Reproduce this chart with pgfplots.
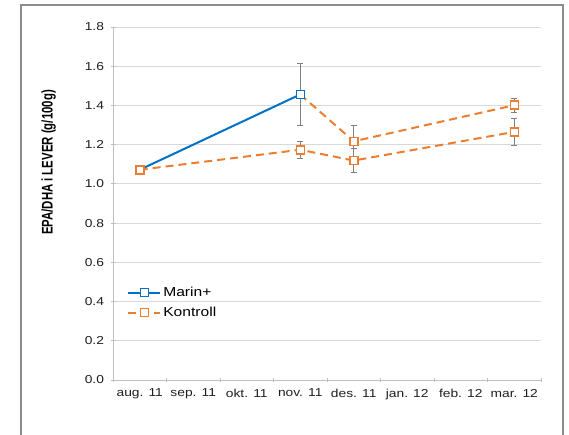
\documentclass[border=0pt]{standalone}
\usepackage{pgfplots}
\pgfplotsset{compat=1.18}
\usepackage{graphicx}
\usepackage{fontspec}
\setmainfont{Liberation Sans}[FakeStretch=1.2]
\newfontfamily\ylabfont{Liberation Sans}
\definecolor{mblue}{RGB}{0,114,198}
\definecolor{morange}{RGB}{237,125,49}
\definecolor{gridc}{RGB}{217,217,217}
\definecolor{axc}{RGB}{191,191,191}
\definecolor{errc}{RGB}{128,128,128}
\begin{document}
\begin{tikzpicture}
\useasboundingbox (0,0) rectangle (569pt,435pt);
\draw[color={rgb,255:red,140;green,140;blue,140}, line width=1.2pt] (21pt,-5pt) -- (21pt,430pt) -- (563pt,430pt) -- (563pt,-5pt);
\begin{axis}[
  at={(113pt,55pt)}, anchor=south west,
  scale only axis, width=428pt, height=353pt,
  xmin=-0.5, xmax=7.5, ymin=0, ymax=1.8,
  xtick={0,1,2,3,4,5,6,7},
  xticklabels={aug. 11, sep. 11, okt. 11, nov. 11, des. 11, jan. 12, feb. 12, mar. 12},
  major x tick style={draw=none},
  minor xtick={-0.5,0.5,...,7.5},
  minor x tick style={axc, line width=0.8pt},
  minor tick length=4pt,
  ytick={0,0.2,...,1.8},
  yticklabel style={/pgf/number format/fixed, /pgf/number format/fixed zerofill, /pgf/number format/precision=1},
  major y tick style={axc, line width=0.8pt},
  major tick length=5pt,
  tick align=outside,
  axis x line=bottom, axis y line=left,
  axis line style={axc, line width=0.8pt, -},
  ymajorgrids, grid style={gridc, line width=0.9pt},
  /pgf/number format/assume math mode=true,
  tick label style={font=\fontsize{11.5}{13}\selectfont, color={rgb,255:red,30;green,30;blue,30}},
  xticklabel style={yshift=-3pt},
  yticklabel style={xshift=-3pt},
  ylabel={\scalebox{1}[1.35]{\ylabfont\bfseries\fontsize{11.4}{13}\selectfont EPA/DHA i LEVER (g/100g)}},
  ylabel style={at={(axis description cs:-0.15,0.616)}, anchor=center},
  legend style={at={(axis description cs:0.026,0.275)}, anchor=north west, draw=none, fill=none,
    font=\fontsize{13}{15}\selectfont, row sep=5pt, cells={anchor=west}},
  legend image code/.code={\draw[mark repeat=2, mark phase=2, #1] plot coordinates {(0pt,0pt) (16pt,0pt) (32pt,0pt)};},
  clip=false,
]
% error bars first (under the markers)
\addplot[draw=none, mark=none, forget plot,
  error bars/.cd, y dir=both, y explicit,
  error bar style={errc, line width=0.8pt, solid},
  error mark options={rotate=90, mark size=3pt, errc, line width=0.8pt, solid}]
  coordinates {(3,1.456) +- (0,0.158) (4,1.217) +- (0,0.08) (7,1.401) +- (0,0.035)
               (3,1.174) +- (0,0.043) (4,1.119) +- (0,0.06) (7,1.265) +- (0,0.07)};
% Marin+ continuation (dashed orange)
\addplot[morange, line width=2pt, dash pattern=on 8pt off 5pt, mark=square*, mark size=4pt,
  mark options={fill=white, solid, line width=1.5pt}, mark indices={2,3}, forget plot]
  coordinates {(3,1.456) (4,1.217) (7,1.401)};
% Marin+
\addplot[mblue, line width=2pt, mark=square*, mark size=4pt,
  mark options={fill=white, solid, line width=1.5pt}]
  coordinates {(0,1.072) (3,1.456)};
\addlegendentry{Marin+}
% Kontroll
\addplot[morange, line width=2pt, dash pattern=on 8pt off 5pt, mark=square*, mark size=4pt,
  mark options={fill=white, solid, line width=1.5pt}]
  coordinates {(0,1.072) (3,1.174) (4,1.119) (7,1.265)};
\addlegendentry{Kontroll}
\end{axis}
\end{tikzpicture}
\end{document}
